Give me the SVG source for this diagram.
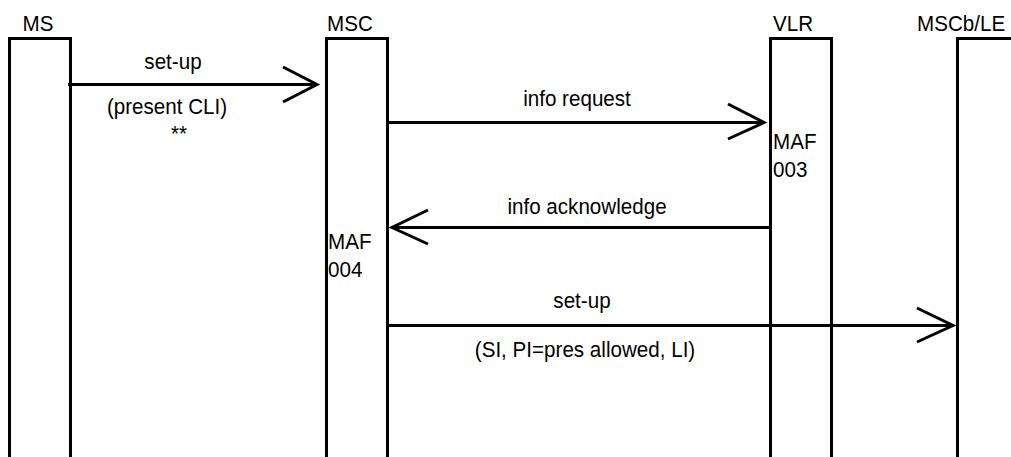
<svg xmlns="http://www.w3.org/2000/svg" width="1011" height="457" viewBox="0 0 1011 457">
<style>
.box{fill:none;stroke:#000;stroke-width:3}
.msg{fill:none;stroke:#000;stroke-width:3}
.head{fill:none;stroke:#000;stroke-width:3;stroke-linejoin:miter}
text{font-family:"Liberation Sans",Arial,sans-serif;font-size:22.4px;fill:#000}
.c{text-anchor:middle}
</style>
<rect width="1011" height="457" fill="#fff"/>
<g id="node-MS">
<path class="box" d="M9.5,457 V38.5 H70.5 V457"/>
<text class="c" transform="translate(38,31) scale(0.92,1)">MS</text>
</g>
<g id="node-MSC">
<path class="box" d="M326.5,457 V38.5 H387.5 V457"/>
<text transform="translate(327,31) scale(0.92,1)">MSC</text>
<text transform="translate(328,249) scale(0.92,1)">MAF</text>
<text transform="translate(328,277) scale(0.92,1)">004</text>
</g>
<g id="node-VLR">
<path class="box" d="M770.5,457 V38.5 H831.5 V457"/>
<text transform="translate(773,31) scale(0.92,1)">VLR</text>
<text transform="translate(773,149) scale(0.92,1)">MAF</text>
<text transform="translate(773,177) scale(0.92,1)">003</text>
</g>
<g id="node-MSCbLE">
<path class="box" d="M957.5,457 V38.5 H1011"/>
<text transform="translate(917,31) scale(0.92,1)">MSCb/LE</text>
</g>
<g id="connectors">
<line class="msg" x1="68" y1="84.5" x2="317" y2="84.5"/>
<polyline class="head" points="283,67 317,84.5 283,102"/>
<text class="c" transform="translate(173,69) scale(0.92,1)">set-up</text>
<text class="c" transform="translate(167,114) scale(0.92,1)">(present CLI)</text>
<text class="c" transform="translate(179,141) scale(0.92,1)">**</text>

<line class="msg" x1="386" y1="122.5" x2="764" y2="122.5"/>
<polyline class="head" points="728,104 764,122.5 728,139"/>
<text class="c" transform="translate(577,106) scale(0.92,1)">info request</text>

<line class="msg" x1="770" y1="227.5" x2="392" y2="227.5"/>
<polyline class="head" points="428,210 392,227.5 428,244"/>
<text class="c" transform="translate(587,214) scale(0.92,1)">info acknowledge</text>

<line class="msg" x1="386" y1="325.5" x2="953" y2="325.5"/>
<polyline class="head" points="917,308 953,325.5 917,342"/>
<text class="c" transform="translate(582,308) scale(0.92,1)">set-up</text>
<text class="c" transform="translate(585,357) scale(0.92,1)">(SI, PI=pres allowed, LI)</text>
</g>
</svg>
